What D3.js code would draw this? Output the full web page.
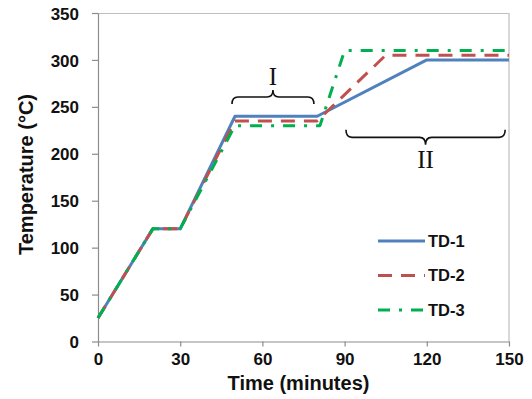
<!DOCTYPE html>
<html>
<head>
<meta charset="utf-8">
<script src="https://cdn.jsdelivr.net/npm/d3@7"></script>
<style>
  body { margin: 0; background: #fff; }
  svg { display: block; }
</style>
</head>
<body>
<svg id="chart" width="532" height="399"></svg>
<script>
// ---- data ----
const xTicks = [0, 30, 60, 90, 120, 150];
const yTicks = [0, 50, 100, 150, 200, 250, 300, 350];
const seriesNames = ["TD-1", "TD-2", "TD-3"];
const td1 = [[0, 25], [20, 120], [30, 120], [50, 240], [80, 240], [120, 300], [150, 300]];
const td2 = [[0, 25], [20, 120], [30, 120], [50, 235], [80, 235], [105, 305], [150, 305]];
const td3 = [[0, 25], [20, 120], [30, 120], [50, 230], [81, 230], [90, 310], [150, 310]];
const seriesColors = ["#4F81BD", "#C0504D", "#00B050"];
const seriesDash = [null, "14,9", "12,9,3,9"];
// braces annotations (data units)
const braces = [
  { x1: 48.9, x2: 78.8, yEnd: 253, yTip: 268, label: "I", labelY: 273 },
  { x1: 90.5, x2: 148.6, yEnd: 225.5, yTip: 209.5, label: "II", labelY: 185 }
];

// ---- layout ----
const margin = { top: 13, right: 23, bottom: 57.5, left: 98 };
const W = 532, H = 399;
const w = W - margin.left - margin.right;
const h = H - margin.top - margin.bottom;
const SANS = "'Liberation Sans', Arial, sans-serif";
const SERIF = "'Liberation Serif', 'Times New Roman', serif";

const svg = d3.select("#chart");
const g = svg.append("g").attr("transform", `translate(${margin.left},${margin.top})`);

const x = d3.scaleLinear().domain([0, 150]).range([0, w]);
const y = d3.scaleLinear().domain([0, 350]).range([h, 0]);

// plot border (top/right)
g.append("path")
  .attr("d", `M0,0.5H${w}V${h}`)
  .attr("fill", "none").attr("stroke", "#BFBFBF").attr("stroke-width", 1.2);

// axes
const xAxis = g.append("g").attr("transform", `translate(0,${h})`)
  .call(d3.axisBottom(x).tickValues(xTicks).tickSize(5).tickPadding(6).tickSizeOuter(0));
const yAxis = g.append("g")
  .call(d3.axisLeft(y).tickValues(yTicks).tickSize(6).tickPadding(13).tickSizeOuter(0));
[xAxis, yAxis].forEach(a => {
  a.select(".domain").attr("stroke", "#8C8C8C").attr("stroke-width", 1.2);
  a.selectAll(".tick line").attr("stroke", "#8C8C8C").attr("stroke-width", 1.2);
  a.selectAll(".tick text")
    .style("font-family", SANS)
    .style("font-size", "17px").style("font-weight", "bold").attr("fill", "#111");
});
yAxis.selectAll(".tick text").attr("dy", "0.36em");

// lines
const line = d3.line().x(d => x(d[0])).y(d => y(d[1]));
const allSeries = [td1, td2, td3];
allSeries.forEach((s, i) => {
  g.append("path")
    .datum(s)
    .attr("d", line)
    .attr("fill", "none")
    .attr("stroke", seriesColors[i])
    .attr("stroke-width", 3)
    .attr("stroke-dasharray", seriesDash[i])
    .attr("stroke-linejoin", "round");
});

// braces
braces.forEach(b => {
  const x1 = x(b.x1), x2 = x(b.x2), xm = (x1 + x2) / 2;
  const ye = y(b.yEnd), yt = y(b.yTip);
  const ym = (ye + yt) / 2;
  const r = 6;
  const d = `M${x1},${ye} Q${x1},${ym} ${x1 + r},${ym} L${xm - r},${ym} Q${xm},${ym} ${xm},${yt} ` +
            `Q${xm},${ym} ${xm + r},${ym} L${x2 - r},${ym} Q${x2},${ym} ${x2},${ye}`;
  g.append("path").attr("d", d).attr("fill", "none").attr("stroke", "#111").attr("stroke-width", 1.6);
  g.append("text").attr("x", xm).attr("y", y(b.labelY))
    .attr("text-anchor", "middle")
    .style("font-family", SERIF)
    .style("font-size", "25px").attr("fill", "#111")
    .text(b.label);
});

// legend
const legX = 378 - margin.left, legY0 = 241 - margin.top, legStep = 34.5;
seriesNames.forEach((n, i) => {
  const yy = legY0 + i * legStep;
  g.append("line")
    .attr("x1", legX).attr("x2", legX + 47).attr("y1", yy).attr("y2", yy)
    .attr("stroke", seriesColors[i]).attr("stroke-width", 3)
    .attr("stroke-dasharray", seriesDash[i]);
  g.append("text").attr("x", legX + 50).attr("y", yy).attr("dy", "0.36em")
    .style("font-family", SANS)
    .style("font-size", "16.5px").style("font-weight", "bold").attr("fill", "#111")
    .text(n);
});

// axis titles
svg.append("text")
  .attr("x", margin.left + w / 2 - 5).attr("y", 390)
  .attr("text-anchor", "middle")
  .style("font-family", SANS).style("font-size", "20px").style("font-weight", "bold").attr("fill", "#111")
  .text("Time (minutes)");
svg.append("text")
  .attr("transform", `translate(33,174.5) rotate(-90)`)
  .attr("text-anchor", "middle")
  .style("font-family", SANS).style("font-size", "20px").style("font-weight", "bold").attr("fill", "#111")
  .text("Temperature (°C)");
</script>
</body>
</html>
